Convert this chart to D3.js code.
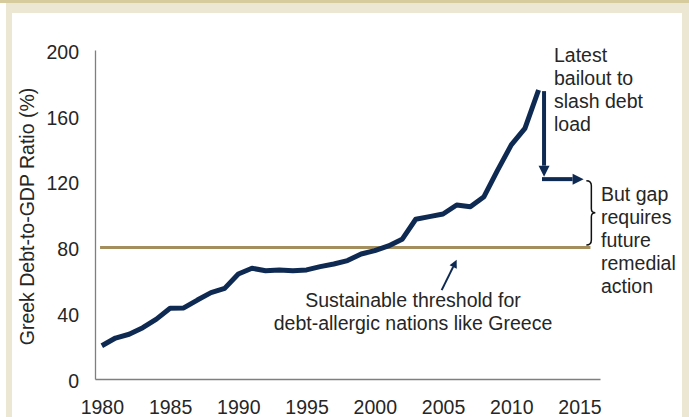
<!DOCTYPE html>
<html>
<head>
<meta charset="utf-8">
<script src="https://cdn.jsdelivr.net/npm/d3@7"></script>
<style>
  body { margin: 0; background: #fff; }
  text { font-family: "Liberation Sans", Arial, sans-serif; fill: #262626; }
</style>
</head>
<body>
<svg id="chart" width="689" height="417"></svg>
<script>
// years on the category axis
var years = [1980, 1981, 1982, 1983, 1984, 1985, 1986, 1987, 1988, 1989,
             1990, 1991, 1992, 1993, 1994, 1995, 1996, 1997, 1998, 1999,
             2000, 2001, 2002, 2003, 2004, 2005, 2006, 2007, 2008, 2009,
             2010, 2011, 2012];
// Greek debt-to-GDP ratio (%)
var debt = [20.2, 24.9, 27.2, 31.2, 36.4, 43, 43.2, 48, 52.5, 55.1,
            63.8, 67.3, 65.8, 66.3, 65.8, 66.3, 68.3, 69.9, 72, 76,
            78, 80.9, 84.9, 97.1, 98.7, 100.3, 105.8, 104.7, 110.8, 127,
            142.3, 152.4, 175.7];
var xTicks = [1980, 1985, 1990, 1995, 2000, 2005, 2010, 2015];
var yTicks = [0, 40, 80, 120, 160, 200];
var threshold = 80;

var svg = d3.select("#chart");

// frame
svg.append("rect").attr("x", 6).attr("y", 0).attr("width", 683).attr("height", 417).attr("fill", "#ece7d3");
svg.append("rect").attr("x", 0).attr("y", 0).attr("width", 689).attr("height", 3).attr("fill", "#d6cb9c");
svg.append("rect").attr("x", 12).attr("y", 13).attr("width", 670).attr("height", 404).attr("fill", "#fff");

var pLeft = 95, pRight = 600, pTop = 50, pBottom = 379;

var x = d3.scaleLinear().domain([1979.5, 2016.5]).range([pLeft, pRight]);
var y = d3.scaleLinear().domain([0, 200]).range([pBottom, pTop]);

// axes
var xAxis = svg.append("g").attr("transform", "translate(0," + pBottom + ")")
  .call(d3.axisBottom(x).tickValues(xTicks).tickSize(0).tickPadding(21).tickFormat(d3.format("d")));
var yAxis = svg.append("g").attr("transform", "translate(" + pLeft + ",0)")
  .call(d3.axisLeft(y).tickValues(yTicks).tickSize(0).tickPadding(16));

[xAxis, yAxis].forEach(function(g) {
  g.select(".domain").attr("stroke", "#7f7f7f").attr("stroke-width", 1.3);
  g.selectAll("text").style("font-size", "19.5px").attr("fill", "#262626")
    .style("font-family", "'Liberation Sans', Arial, sans-serif");
});
yAxis.selectAll("text").attr("dy", "0.42em");

svg.append("text")
  .attr("transform", "translate(27," + ((pTop + pBottom) / 2 + 2) + ") rotate(-90)")
  .attr("text-anchor", "middle").attr("dominant-baseline", "central")
  .style("font-size", "19.5px")
  .text("Greek Debt-to-GDP Ratio (%)");

// threshold line
svg.append("line")
  .attr("x1", x(1979.87)).attr("x2", x(2015.8))
  .attr("y1", y(threshold)).attr("y2", y(threshold))
  .attr("stroke", "#a58e5e").attr("stroke-width", 3);

// debt line
var line = d3.line().x(function(d, i) { return x(years[i]); }).y(function(d) { return y(d); });
svg.append("path").datum(debt)
  .attr("d", line)
  .attr("fill", "none").attr("stroke", "#0f2a52").attr("stroke-width", 5)
  .attr("stroke-linejoin", "round");

// annotations
var navy = "#0f2a52";
function arrow(x1, y1, x2, y2, w, head, hw) {
  var ang = Math.atan2(y2 - y1, x2 - x1);
  var bx = x2 - head * Math.cos(ang), by = y2 - head * Math.sin(ang);
  svg.append("line").attr("x1", x1).attr("y1", y1).attr("x2", bx).attr("y2", by)
    .attr("stroke", navy).attr("stroke-width", w);
  var px = -Math.sin(ang) * hw, py = Math.cos(ang) * hw;
  svg.append("polygon")
    .attr("points", [[x2, y2], [bx + px, by + py], [bx - px, by - py]].map(function(p) { return p.join(","); }).join(" "))
    .attr("fill", navy);
}
arrow(x(2012.4), y(175), x(2012.4), y(123), 4, 11, 5.5);
arrow(x(2012.25), y(121.5), x(2015.3), y(121.5), 4, 11, 5.5);
arrow(x(2004.9), y(54), x(2006.0), y(72.5), 2, 8, 4);

// brace
var bx0 = x(2015.5), by0 = y(120.5), by1 = y(81.5), bm = (by0 + by1) / 2;
svg.append("path")
  .attr("d", "M" + bx0 + "," + by0 + " q5,0 5,5 L" + (bx0 + 5) + "," + (bm - 4) + " q0,4 4,4 q-4,0 -4,4 L" + (bx0 + 5) + "," + (by1 - 5) + " q0,5 -5,5")
  .attr("fill", "none").attr("stroke", "#111").attr("stroke-width", 1.5);

function block(lines, tx, ty, anchor) {
  var t = svg.append("text").attr("x", tx).attr("y", ty).attr("text-anchor", anchor || "start")
    .style("font-size", "19.5px");
  lines.forEach(function(s, i) {
    t.append("tspan").attr("x", tx).attr("dy", i === 0 ? 0 : 23).text(s);
  });
}
block(["Latest", "bailout to", "slash debt", "load"], 554, 62);
block(["But gap", "requires", "future", "remedial", "action"], 601, 201);
block(["Sustainable threshold for", "debt-allergic nations like Greece"], 413, 307, "middle");
</script>
</body>
</html>
